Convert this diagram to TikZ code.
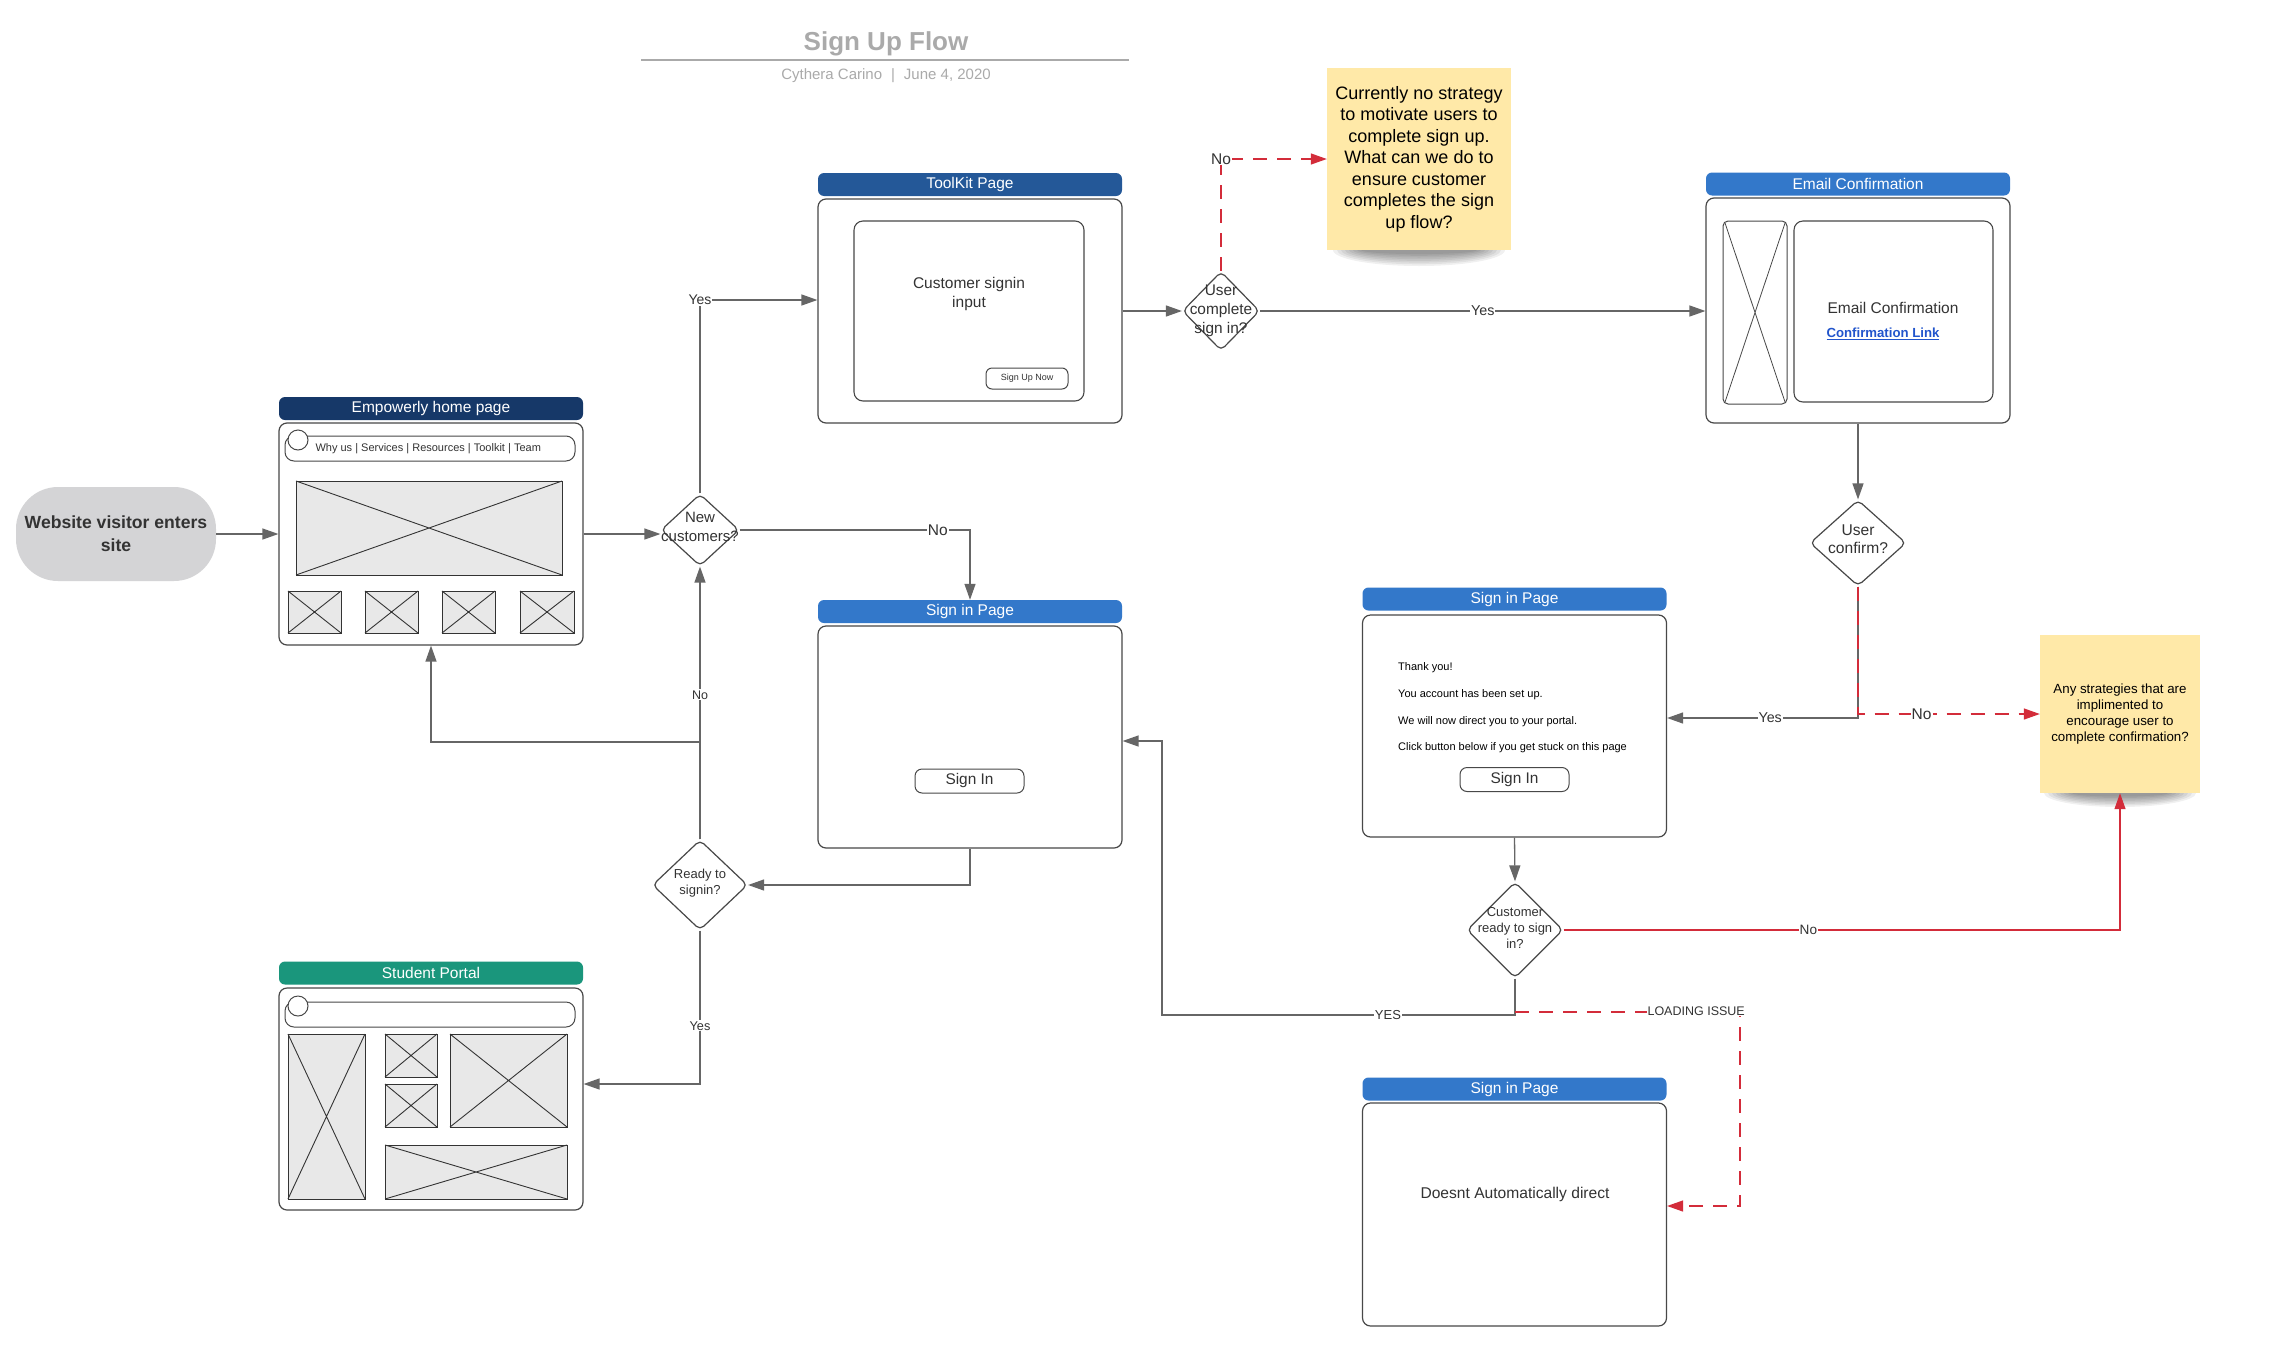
\documentclass[tikz,border=0pt]{standalone}
\usepackage{fontspec}
\setmainfont{Liberation Sans}
\usetikzlibrary{arrows.meta,shapes.geometric,calc}
\definecolor{hdNavy}{RGB}{22,56,104}
\definecolor{hdTk}{RGB}{36,88,152}
\definecolor{hdBlue}{RGB}{51,120,202}
\definecolor{hdTeal}{RGB}{26,150,124}
\definecolor{lineGray}{RGB}{102,102,102}
\definecolor{boxGray}{RGB}{72,72,72}
\definecolor{phFill}{RGB}{232,232,232}
\definecolor{noteY}{RGB}{255,233,168}
\definecolor{redL}{RGB}{211,44,58}
\definecolor{txtD}{RGB}{51,51,51}
\definecolor{startF}{RGB}{212,212,214}
\definecolor{titleG}{RGB}{170,170,170}
\definecolor{linkB}{RGB}{34,85,204}
\newcommand\phbox[4]{\draw[draw=txtD, fill=phFill, line width=1pt] (#1,#2) rectangle (#3,#4);
  \draw[txtD, line width=0.9pt] (#1,#2) -- (#3,#4) (#1,#4) -- (#3,#2);}
\newcommand\fs[2]{\fontsize{#1}{#2}\selectfont}
\begin{document}
\begin{tikzpicture}[x=1pt,y=-1pt,
  hdr/.style={rectangle, rounded corners=6pt, minimum width=304pt, minimum height=23pt, inner sep=0pt, text=white, font=\fs{15.5}{18}},
  pg/.style={rectangle, draw=boxGray, line width=1.2pt, rounded corners=8pt, minimum width=304pt, inner sep=0pt, fill=white},
  dia/.style={diamond, draw=boxGray, line width=1.2pt, rounded corners=5pt, inner sep=0pt, fill=white},
  dtxt/.style={align=center, text=txtD, inner sep=0pt},
  btn/.style={draw=boxGray, line width=1pt, rounded corners=7pt, minimum width=109pt, minimum height=24pt, inner sep=0pt, text=txtD, font=\fs{15.4}{18}},
  conn/.style={draw=lineGray, line width=1.3pt, -{Triangle[length=16pt,width=11pt]}},
  redd/.style={draw=redL, line width=1.3pt, dash pattern=on 14pt off 10pt, -{Triangle[length=16pt,width=11pt]}},
  reds/.style={draw=redL, line width=1.3pt, -{Triangle[length=16pt,width=11pt]}},
  lbl/.style={fill=white, inner sep=1pt, text=txtD, font=\fs{14}{16}},
  note/.style={fill=noteY, inner sep=0pt, align=center, text=black}
]
\useasboundingbox (0,0) rectangle (2278,1360);
\fill[white] (0,0) rectangle (2278,1360);

% title
\node[font=\bfseries\fs{26}{30}, text=titleG] (title) at (886,44) {Sign Up Flow};
\draw[titleG, line width=2pt] (641,60) -- (1129,60);
\node[font=\fs{15}{18}, text=titleG] (subtitle) at (886,76) {Cythera Carino\hspace{0.6em}|\hspace{0.6em}June 4, 2020};

% start
\node[rectangle, rounded corners=42pt, fill=startF, minimum width=200pt, minimum height=94pt, align=center, text=txtD, font=\bfseries\fs{17.6}{23}] (start) at (116,534) {Website visitor enters\\site};

% home page
\node[hdr, fill=hdNavy] (homeH) at (431,408.5) {Empowerly home page};
\node[pg, minimum height=222pt] (home) at (431,534) {};
\draw[boxGray, line width=1pt, rounded corners=9pt, fill=white] (285,436) rectangle (575,461);
\draw[boxGray, line width=1pt, fill=white] (298,440) circle [radius=10pt];
\node[anchor=west, font=\fs{11}{13}, text=txtD] (navT) at (312,449) {Why us | Services | Resources | Toolkit | Team};
\phbox{296}{481}{562}{575}
\phbox{288}{591}{341}{633}
\phbox{365}{591}{418}{633}
\phbox{442}{591}{495}{633}
\phbox{520}{591}{574}{633}

% toolkit
\node[hdr, fill=hdTk] (tkH) at (970,184.5) {ToolKit Page};
\node[pg, minimum height=224pt] (tk) at (970,311) {};
\draw[boxGray, line width=1.1pt, rounded corners=9pt] (854,221) rectangle (1084,401);
\node[dtxt, font=\fs{15.5}{19}] (tkT) at (969,294) {Customer signin\\input};
\node[btn, minimum width=82pt, minimum height=21pt, rounded corners=6pt, font=\fs{9}{10}] (tkBtn) at (1027,378.5) {Sign Up Now};

% email confirmation
\node[hdr, fill=hdBlue] (emH) at (1858,184) {Email Confirmation};
\node[pg, minimum height=225pt] (em) at (1858,310.5) {};
\draw[boxGray, line width=1pt, rounded corners=5pt] (1723,221) rectangle (1787,404);
\draw[boxGray, line width=0.8pt] (1725,223) -- (1785,402) (1785,223) -- (1725,402);
\draw[boxGray, line width=1.1pt, rounded corners=9pt] (1794,221) rectangle (1993,402);
\node[font=\fs{15.5}{18}, text=txtD] (emT) at (1893,308) {Email Confirmation};
\node[font=\bfseries\fs{13.2}{15}, text=linkB] (emL) at (1883,334) {\underline{Confirmation Link}};

% sign in page (left)
\node[hdr, fill=hdBlue] (sipLH) at (970,611.5) {Sign in Page};
\node[pg, minimum height=222pt] (sipL) at (970,737) {};
\node[btn] (sipLBtn) at (969.5,781) {Sign In};

% sign in page (right)
\node[hdr, fill=hdBlue] (sipRH) at (1514.5,599) {Sign in Page};
\node[pg, minimum height=222pt] (sipR) at (1514.5,726) {};
\node[anchor=west, align=left, font=\fs{11}{26.6}, text=black, inner sep=0pt] (sipRT) at (1398,708) {Thank you!\\You account has been set up.\\We will now direct you to your portal.\\Click button below if you get stuck on this page};
\node[btn] (sipRBtn) at (1514.5,779.5) {Sign In};

% sign in page (bottom)
\node[hdr, fill=hdBlue] (sipBH) at (1514.5,1089) {Sign in Page};
\node[pg, minimum height=223pt] (sipB) at (1514.5,1214.5) {};
\node[font=\fs{15.6}{18}, text=txtD] (sipBT) at (1515,1194) {Doesnt Automatically direct};

% student portal
\node[hdr, fill=hdTeal] (spH) at (431,973) {Student Portal};
\node[pg, minimum height=222pt] (sp) at (431,1099) {};
\draw[boxGray, line width=1pt, rounded corners=9pt, fill=white] (285,1002) rectangle (575,1027);
\draw[boxGray, line width=1pt, fill=white] (298,1006) circle [radius=10pt];
\phbox{288}{1034}{365}{1199}
\phbox{385}{1034}{437}{1077}
\phbox{385}{1084}{437}{1127}
\phbox{450}{1034}{567}{1127}
\phbox{385}{1145}{567}{1199}

% notes with shadows
\foreach \i in {0,...,7} {
  \fill[black, opacity=0.06] (1419,250) ellipse [x radius={86-4*\i}, y radius={16-1.7*\i}];
  \fill[black, opacity=0.06] (2120,793) ellipse [x radius={76-4*\i}, y radius={14-1.5*\i}];
}
\node[note, minimum width=184pt, minimum height=182pt, font=\fs{18}{21.5}] (note1) at (1419,159) {Currently no strategy\\to motivate users to\\complete sign up.\\What can we do to\\ensure customer\\completes the sign\\up flow?};
\node[note, minimum width=160pt, minimum height=158pt, font=\fs{13.3}{16}] (note2) at (2120,714) {Any strategies that are\\implimented to\\encourage user to\\complete confirmation?};

% diamonds
\node[dia, minimum width=78pt, minimum height=72pt] (dNew) at (700,530) {};
\node[dtxt, font=\fs{15}{19}] (dNewT) at (700,527) {New\\customers?};
\node[dia, minimum width=77pt, minimum height=79pt] (dUC) at (1221,311) {};
\node[dtxt, font=\fs{15.4}{19}] (dUCT) at (dUC) {User\\complete\\sign in?};
\node[dia, minimum width=96pt, minimum height=86pt] (dUConf) at (1858,543) {};
\node[dtxt, font=\fs{15.6}{17.5}] (dUConfT) at (1858,539) {User\\confirm?};
\node[dia, minimum width=95pt, minimum height=90pt] (dReady) at (700,885) {};
\node[dtxt, font=\fs{13}{16}] (dReadyT) at (700,883) {Ready to\\signin?};
\node[dia, minimum width=96pt, minimum height=96pt] (dCR) at (1515,930) {};
\node[dtxt, font=\fs{13}{16}] (dCRT) at (1515,928) {Customer\\ready to sign\\in?};

% connectors
\draw[conn] (start.east) -- (home.west);
\draw[conn] (home.east) -- (home.east -| dNew.west);
\draw[conn] (dNew.north) |- node[lbl, pos=0.5]{Yes} ($(tk.west)+(0,-11)$);
\draw[conn] (tk.east) -- (dUC.west);
\draw[redd] (dUC.north) |- node[lbl, pos=0.5, font=\fs{15.5}{17}]{No} (note1.west);
\draw[conn] (dUC.east) -- node[lbl, pos=0.5, font=\fs{14.3}{16}]{Yes} (em.west |- dUC.east);
\draw[conn] (em.south) -- (dUConf.north);
\draw[conn] (dUConf.south) |- node[lbl, pos=0.73, font=\fs{14.3}{16}]{Yes} ($(sipR.east)+(0,-8)$);
\draw[redd] (dUConf.south) |- node[lbl, pos=0.675, font=\fs{15.5}{17}]{No} (note2.west);
\draw[conn] (sipR.south) -- (dCR.north);
\draw[reds] (dCR.east) -| node[lbl, pos=0.22, font=\fs{13.6}{15}]{No} (note2.south);
\coordinate (c1) at (1515,1015);
\coordinate (c2) at (1162,1015);
\coordinate (c3) at (1162,741);
\draw[conn] (dCR.south) -- (c1) -- node[lbl, pos=0.36, font=\fs{13}{15}]{YES} (c2) -- (c3) -- (sipL.east |- c3);
\coordinate (r1) at (1515,1012);
\coordinate (r2) at (1740,1012);
\coordinate (r3) at (1740,1206);
\draw[redd] (r1) -- (r2) -- (r3) -- (sipB.east |- r3);
\node[lbl, anchor=east, font=\fs{12.5}{14}] (loadL) at (1746,1011) {LOADING ISSUE};
\draw[conn] (dNew.east) -| node[lbl, pos=0.43, font=\fs{15.5}{17}]{No} (sipLH.north);
\draw[conn] (sipL.south) |- (dReady.east);
\draw[conn] (dReady.north) -- node[lbl, pos=0.53, font=\fs{12.5}{14}]{No} (dNew.south);
\coordinate (jct) at (700,742);
\draw[conn] (dReady.north) -- (jct) -| (home.south);
\draw[conn] (dReady.south) |- node[lbl, pos=0.31, font=\fs{12.7}{14}]{Yes} ($(sp.east)+(0,-15)$);
\end{tikzpicture}
\end{document}
